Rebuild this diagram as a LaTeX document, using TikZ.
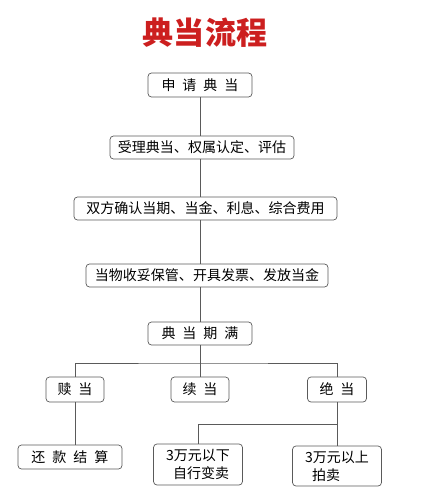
\documentclass[tikz,border=0pt]{standalone}
\usepackage{fontspec}
\setmainfont{Noto Sans CJK SC}
\definecolor{titlered}{HTML}{CC1F1F}
\definecolor{boxgray}{HTML}{5A5A5A}
\newcommand\jg{\hspace{.5em}}
\begin{document}
\begin{tikzpicture}[x=0.03cm,y=-0.03cm,
    box/.style={draw=boxgray,line width=0.6pt,rounded corners=3pt,fill=white,inner sep=0pt,
        font=\fontsize{11.95}{15.4}\selectfont},
    link/.style={draw=boxgray,line width=0.6pt}]
            \useasboundingbox (0,0) rectangle (430,499);
            \node[text=titlered,font=\fontsize{26.5}{30}\selectfont\bfseries] (title) at (205,33) {典当流程};
            \node[box,minimum width=3.12cm,minimum height=0.72cm] (apply) at (200,85) {申\jg 请\jg 典\jg 当};
            \node[box,minimum width=5.52cm,minimum height=0.69cm] (accept) at (202,147.5) {受理典当、权属认定、评估};
            \node[box,minimum width=7.89cm,minimum height=0.69cm] (confirm) at (205.5,208.5) {双方确认当期、当金、利息、综合费用};
            \node[box,minimum width=7.26cm,minimum height=0.69cm] (keep) at (207,275.5) {当物收妥保管、开具发票、发放当金};
            \node[box,minimum width=3.12cm,minimum height=0.69cm] (expire) at (200,333.5) {典\jg 当\jg 期\jg 满};
            \node[box,minimum width=1.74cm,minimum height=0.75cm] (redeem) at (75,389.5) {赎\jg 当};
            \node[box,minimum width=1.74cm,minimum height=0.75cm] (renew) at (200,389.5) {续\jg 当};
            \node[box,minimum width=1.77cm,minimum height=0.75cm] (forfeit) at (337,389.5) {绝\jg 当};
            \node[box,minimum width=3.12cm,minimum height=0.72cm] (repay) at (70,457) {还\jg 款\jg 结\jg 算};
            \node[box,minimum width=2.67cm,minimum height=1.23cm,align=left] (below) at (198,464.5) {3万元以下\\\jg 自行变卖};
            \node[box,minimum width=2.67cm,minimum height=1.2cm,align=left] (above) at (337,466) {3万元以上\\\jg 拍卖};
            \coordinate (J) at (200,363);
            \coordinate (K) at (337,424);
            \draw[link] (apply) -- (apply |- accept.north);
            \draw[link] (apply |- accept.south) -- (apply |- confirm.north);
            \draw[link] (apply |- confirm.south) -- (apply |- keep.north);
            \draw[link] (apply |- keep.south) -- (expire);
            \draw[link] (expire) -- (J);
            \draw[link] (redeem) |- (J) -| (forfeit);
            \draw[link] (renew) -- (J);
            \draw[link] (redeem) -- (redeem |- repay.north);
            \draw[link] (forfeit) -- (above);
            \draw[link] (K) -| (below);
        \end{tikzpicture}
\end{document}
